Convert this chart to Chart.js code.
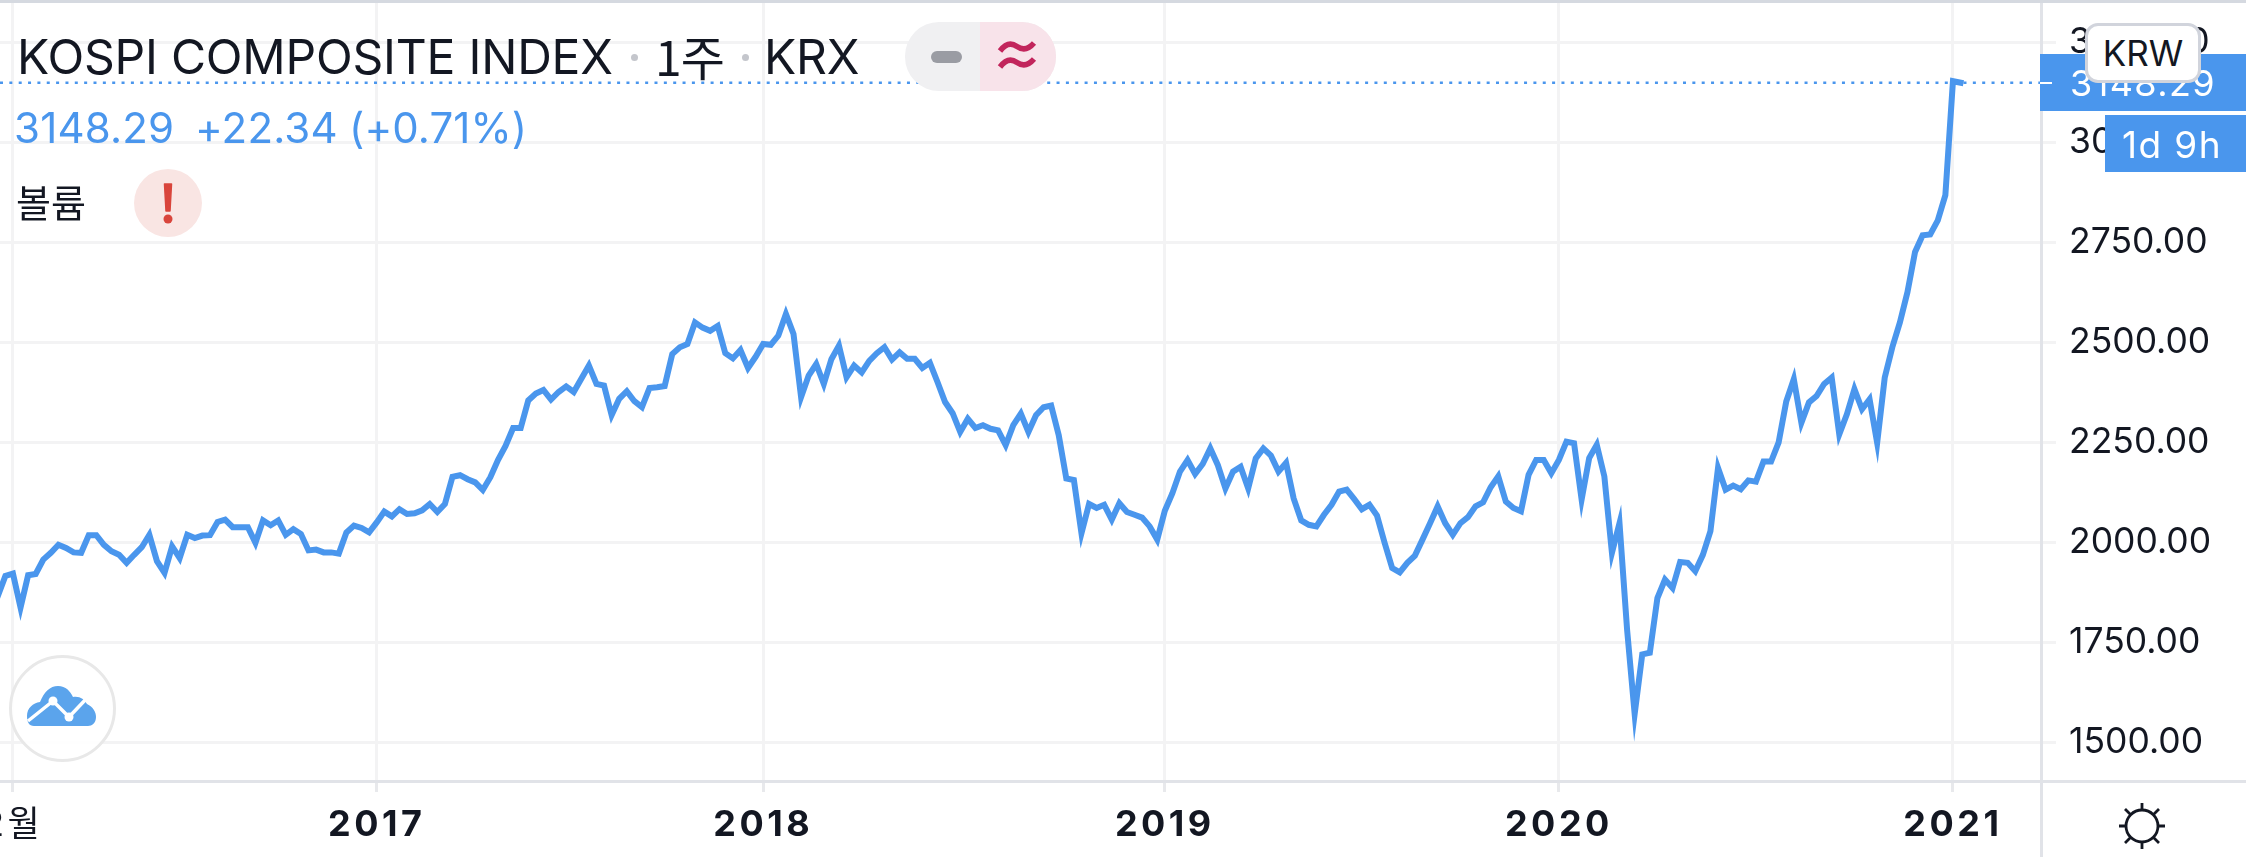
<!DOCTYPE html>
<html><head><meta charset="utf-8">
<script src="https://cdn.jsdelivr.net/npm/chart.js@4"></script>
<style>
html,body{margin:0;padding:0;background:#fff;width:2246px;height:857px;overflow:hidden}
#wrap{position:relative;width:2246px;height:857px}
canvas{position:absolute;left:0;top:0}
.a{position:absolute;white-space:nowrap;z-index:2}
.t{font-family:Inter,sans-serif;color:#131722;line-height:1}
.b{color:#4A96ED}
</style></head><body>
<div id="wrap">
<canvas id="c" width="2246" height="857"></canvas>
<div class="a" style="left:0;top:0;width:2246px;height:3px;background:#d5d9e0"></div>
<div class="a" style="left:2040px;top:3px;width:3px;height:854px;background:#e1e3e8"></div>
<div class="a" style="left:0;top:780px;width:2246px;height:3px;background:#e1e3e8"></div>

<div class="a t" style="left:17px;top:33px;font-size:48px;letter-spacing:-.2px" id="title">KOSPI COMPOSITE INDEX</div>
<div class="a" style="left:631px;top:54px;width:7px;height:7px;border-radius:50%;background:#c4c6cc"></div>
<div class="a t" style="left:655px;top:31px;font-size:48px;font-family:'Noto Sans CJK KR',sans-serif;letter-spacing:-1px">1주</div>
<div class="a" style="left:742px;top:54px;width:7px;height:7px;border-radius:50%;background:#c4c6cc"></div>
<div class="a t" style="left:764px;top:33px;font-size:48px;letter-spacing:-.2px">KRX</div>

<div class="a" style="left:905px;top:22px;width:151px;height:69px;border-radius:34px;overflow:hidden;background:#f0f0f2">
  <div style="position:absolute;left:75px;top:0;width:76px;height:69px;background:#f8e3ea"></div>
  <div style="position:absolute;left:26px;top:29px;width:31px;height:12px;border-radius:6px;background:#9a9ca3"></div>
  <svg style="position:absolute;left:92px;top:18px" width="40" height="32" viewBox="0 0 40 32"><path d="M3 11C9 3 15 3 20 6.500S31 10 37 3M3 27C9 19 15 19 20 22.500S31 26 37 19" fill="none" stroke="#c2255c" stroke-width="5.500"/></svg>
</div>

<div class="a b" style="left:14px;top:107px;font-size:42px;font-family:Inter,sans-serif;line-height:1;letter-spacing:.2px">3148.29</div>
<div class="a b" style="left:195px;top:107px;font-size:42px;font-family:Inter,sans-serif;line-height:1;letter-spacing:.2px">+22.34</div>
<div class="a b" style="left:349px;top:107px;font-size:42px;font-family:Inter,sans-serif;line-height:1;letter-spacing:.1px">(+0.71%)</div>

<div class="a t" style="left:16px;top:182px;font-size:38px;font-family:'Noto Sans CJK KR',sans-serif">볼륨</div>
<div class="a" style="left:134px;top:169px;width:68px;height:68px;border-radius:50%;background:#f9e5e3"></div>
<svg class="a" style="left:134px;top:169px" width="68" height="68" viewBox="0 0 68 68"><path d="M30.500 15H37.500L36 42H32Z" fill="#d9453c" stroke="#d9453c" stroke-width="1.500" stroke-linejoin="round"/><circle cx="34" cy="50" r="4.500" fill="#d9453c"/></svg>

<div class="a" style="left:9px;top:655px;width:101px;height:101px;border-radius:50%;border:3px solid #e8e8e8;background:rgba(255,255,255,.85)"></div>
<svg class="a" style="left:0;top:680px" width="120" height="60" viewBox="0 680 120 60">
<path d="M34 726C29 726 27 722 27 716C27 708 33 703 40 702C44 692 50 686 58 686C66 686 70 691 73 697C80 696 84 699 87 704C93 707 96 712 96 717C96 723 92 726 88 726Z" fill="#5BA4EC"/>
<path d="M28 721L53 701L69 717L88 697" fill="none" stroke="#fff" stroke-width="3.500"/>
<circle cx="53" cy="701" r="4.500" fill="#fff"/><circle cx="69" cy="717" r="4.500" fill="#fff"/>
</svg>

<div class="a" style="left:2040px;top:54px;width:206px;height:57px;background:#4A96ED"></div>
<div class="a" id="pl" style="left:2070px;top:65px;color:#fff;font:36px Inter,sans-serif;line-height:1.0;letter-spacing:1.4px">3148.29</div>
<div class="a" style="left:2040px;top:82px;width:12px;height:2px;background:#fff"></div>
<div class="a" style="left:2105px;top:115px;width:141px;height:57px;background:#4A96ED"></div>
<div class="a" style="left:2122px;top:126px;color:#fff;font:37px Inter,sans-serif;line-height:1.0;letter-spacing:1.400px">1d 9h</div>
<div class="a t" style="left:2085px;top:23px;width:110px;height:54px;border:3px solid #d1d4dc;border-radius:13px;background:#fff;font-size:35px;line-height:54px;text-align:center;z-index:3">KRW</div>

<svg class="a" style="left:2119px;top:803px" width="46" height="46" viewBox="0 0 46 46" fill="none" stroke="#131722" stroke-width="2.800"><circle cx="23" cy="23" r="16"/><path d="M23 0V7M23 39V46M0 23H7M39 23H46M6 6L11.500 11.500M34.500 34.500L40 40M6 40L11.500 34.500M34.500 11.500L40 6"/></svg>
</div>
<script>
const closes = [
1865,1915,1921,1836,1917,1920,1956,1973,1993,1985,
1974,1973,2017,2017,1993,1977,1968,1948,1968,1987,
2018,1952,1923,1989,1960,2018,2010,2016,2017,2050,
2056,2037,2037,2037,1998,2054,2042,2054,2018,2032,
2020,1979,1981,1974,1974,1971,2024,2041,2035,2024,
2049,2076,2064,2082,2070,2072,2079,2095,2075,2095,
2163,2167,2157,2149,2130,2162,2205,2240,2285,2285,
2354,2371,2380,2356,2375,2389,2375,2408,2441,2395,
2391,2317,2358,2377,2352,2337,2385,2387,2390,2470,
2487,2495,2549,2536,2528,2540,2472,2459,2480,2435,
2463,2495,2493,2516,2570,2520,2362,2416,2445,2395,
2457,2491,2412,2441,2424,2453,2472,2487,2456,2474,
2458,2458,2435,2448,2400,2350,2322,2275,2308,2285,
2292,2283,2279,2242,2292,2321,2275,2317,2337,2341,
2267,2159,2155,2022,2095,2085,2093,2056,2097,2075,
2068,2061,2039,2006,2078,2122,2176,2205,2170,2195,
2234,2192,2134,2176,2188,2134,2209,2234,2216,2176,
2198,2109,2054,2043,2039,2068,2093,2126,2131,2107,
2082,2093,2066,1998,1935,1924,1948,1966,2006,2047,
2089,2047,2018,2047,2062,2089,2099,2137,2164,2101,
2085,2077,2168,2205,2205,2172,2205,2251,2247,2106,
2210,2243,2164,1973,2047,1781,1570,1719,1723,1860,
1906,1885,1950,1948,1927,1968,2027,2185,2131,2141,
2132,2154,2151,2201,2201,2249,2351,2407,2298,2349,
2365,2395,2411,2269,2319,2382,2332,2357,2248,2411,
2487,2549,2625,2725,2767,2769,2804,2867,3152,3148.29
];
const lastPrice = 3148.29;
const xTickWeeks = [2,50,101,154,206,258];
const xTickLabels = ['2월','2017','2018','2019','2020','2021'];
const yTicks = [1500,1750,2000,2250,2500,2750,3000,3250];
const xMin = 0.29, xMax = 269.62, yMin = 1402.5, yMax = 3347.5;
const grid = '#f3f3f4';

new Chart(document.getElementById('c'),{
  type:'line',
  plugins:[{id:'sharpTips',beforeDatasetsDraw(ch){ch.ctx.miterLimit=40;}}],
  data:{datasets:[
    {data:closes.map((v,i)=>({x:i,y:v})),borderColor:'#4A96ED',borderWidth:6,pointRadius:0,tension:0,borderJoinStyle:'miter',borderCapStyle:'square',order:1},
    {data:[{x:xMin,y:lastPrice},{x:xMax,y:lastPrice}],borderColor:'#4A96ED',borderWidth:2.500,borderDash:[3,6.350],pointRadius:0,order:2}
  ]},
  options:{
    responsive:false,animation:false,
    layout:{padding:{left:0,right:0,top:3,bottom:0}},
    plugins:{legend:{display:false},tooltip:{enabled:false}},
    scales:{
      x:{type:'linear',position:'bottom',min:xMin,max:xMax,
        afterBuildTicks:s=>{s.ticks=xTickWeeks.map(v=>({value:v}))},
        afterFit:s=>{
          s.height=76;s.paddingLeft=0;s.paddingRight=0;
          if(!s._spaced){
            s._spaced=true;
            const draw=s.drawLabels;
            s.drawLabels=function(a){this.ctx.letterSpacing='3.5px';draw.call(this,a);this.ctx.letterSpacing='0px';};
          }
        },
        grid:{color:grid,lineWidth:3,tickLength:11,tickColor:'#e8e9ec'},
        border:{display:false},
        ticks:{autoSkip:false,maxRotation:0,minRotation:0,padding:12,color:'#131722',
          font:c=>({family:'Inter, "Noto Sans CJK KR", sans-serif',size:c.index===0?35:36,weight:c.index===0?'400':'700'}),
          callback:(v,i)=>xTickLabels[i]}
      },
      y:{type:'linear',position:'right',min:yMin,max:yMax,
        afterBuildTicks:s=>{s.ticks=yTicks.map(v=>({value:v}))},
        afterFit:s=>{s.width=205;s.paddingTop=0;s.paddingBottom=0},
        grid:{color:grid,lineWidth:3,tickLength:15,tickColor:grid},
        border:{display:false},
        ticks:{autoSkip:false,padding:13,color:'#131722',font:{family:'Inter, sans-serif',size:35.5},
          callback:v=>v.toFixed(2)}
      }
    }
  }
});
</script>
</body></html>
